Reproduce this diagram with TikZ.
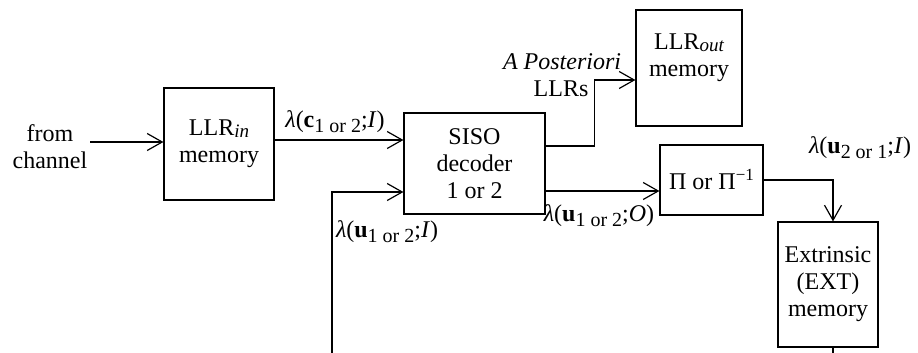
\documentclass[tikz,border=0pt]{standalone}
\usepackage{fontspec}
\setmainfont{Liberation Serif}
\usetikzlibrary{arrows.meta}
\newcommand\lam{{\itshape λ}}
\newcommand\sbs[1]{\raisebox{-5pt}{\fontsize{20}{20}\selectfont #1}}
\newcommand\sub[1]{\raisebox{-2pt}{\fontsize{19}{19}\selectfont\itshape #1}}
\begin{document}
\begin{tikzpicture}[x=1pt,y=-1pt,
  every node/.style={font=\fontsize{24}{27}\selectfont},
  box/.style={draw,line width=1.2pt,inner sep=0pt,align=center},
  txt/.style={inner sep=0pt,align=center},
  wire/.style={line width=1.2pt},
  arr/.style={wire,-{Straight Barb[length=15pt,width=17pt,line width=1.2pt]}}]
\useasboundingbox (0,0) rectangle (918,353);
% boxes
\node[box,minimum width=110pt,minimum height=112pt] (llrin) at (219,144) {LLR\sub{in}\\memory};
\node[box,minimum width=141pt,minimum height=101pt] (siso) at (474.5,163.5) {SISO\\decoder\\1 or 2};
\node[box,minimum width=106pt,minimum height=116pt] (llrout) at (689,68) {};
\node[txt] (llrouttxt) at (689,58) {LLR\sub{out}\\memory};
\node[box,minimum width=103pt,minimum height=70pt] (pi) at (711.5,180) {Π or Π\raisebox{9pt}{\fontsize{17}{17}\selectfont −1}};
\node[box,minimum width=100pt,minimum height=125pt] (ext) at (828,284.5) {Extrinsic\\(EXT)\\memory};
% texts
\node[txt] (from) at (50,147) {from\\channel};
\node[txt] (lc) at (335,122) {\lam(\textbf{c}\sbs{1 or 2};\textit{I})};
\node[txt] (lui) at (387,232) {\lam(\textbf{u}\sbs{1 or 2};\textit{I})};
\node[txt] (luo) at (599,216) {\lam(\textbf{u}\sbs{1 or 2};\textit{O})};
\node[txt] (lu21) at (860,148) {\lam(\textbf{u}\sbs{2 or 1};\textit{I})};
\node[txt] (apost) at (562,62) {\textit{A Posteriori}};
\node[txt] (llrs) at (561,89) {LLRs};
% connectors
\coordinate (fc) at (90,142);
\coordinate (fb) at (332,353);
\coordinate (eb) at (833,353);
\draw[arr] (fc) -- (fc -| llrin.west);
\draw[arr] ([yshift=4pt]llrin.east) -- ([yshift=4pt]llrin.east -| siso.west);
\draw[arr] (fb) |- ([yshift=-28.5pt]siso.west);
\draw[arr] ([yshift=17.5pt]siso.east) -- ++(49,0) |- ([yshift=-12pt]llrout.west);
\draw[arr] ([yshift=-27.5pt]siso.east) -- ([yshift=-27.5pt]siso.east -| pi.west);
\draw[arr] (pi.east) -| ([xshift=5pt]ext.north);
\draw[wire] ([xshift=5pt]ext.south) -- (eb);
\end{tikzpicture}
\end{document}
